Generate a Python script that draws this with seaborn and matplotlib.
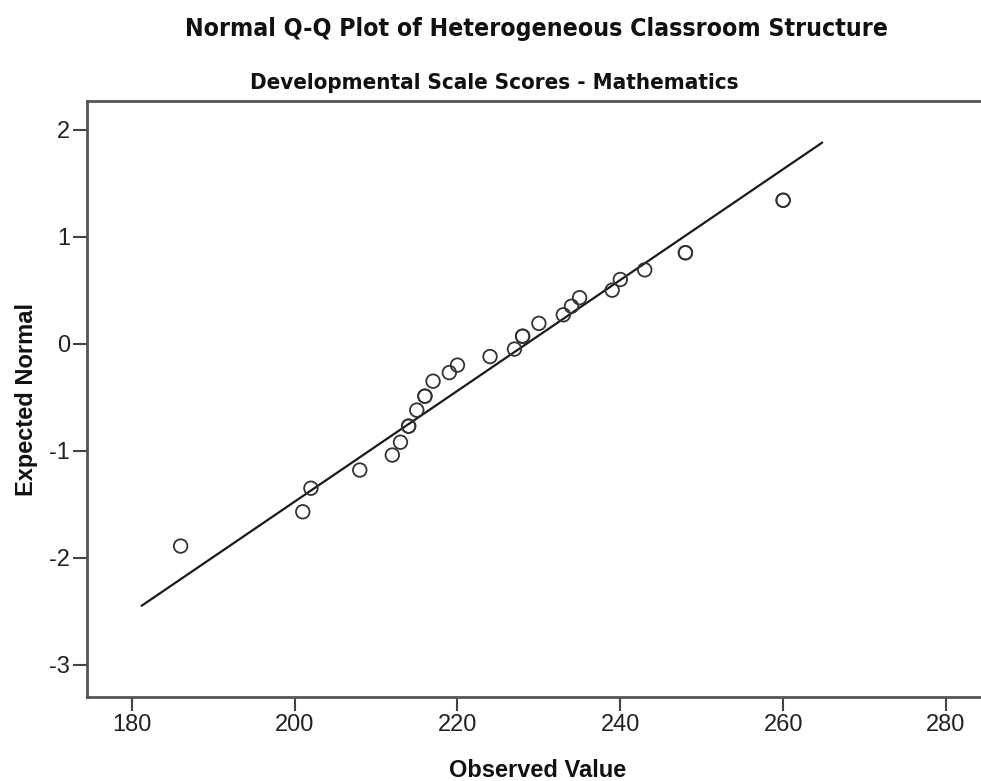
import matplotlib
matplotlib.use("Agg")
import matplotlib.pyplot as plt
import matplotlib.font_manager as fm
import seaborn as sns
import pandas as pd

# ---- data ----
observed = [186, 201, 202, 208, 212, 213, 214, 214, 215, 216, 216, 217, 219, 220,
            224, 227, 228, 228, 230, 233, 234, 235, 239, 240, 243, 248, 248, 260, 260]
expected = [-1.89, -1.57, -1.35, -1.18, -1.04, -0.92, -0.77, -0.77, -0.62, -0.49, -0.49,
            -0.35, -0.27, -0.20, -0.12, -0.05, 0.07, 0.07, 0.19, 0.27, 0.35, 0.43,
            0.50, 0.60, 0.69, 0.85, 0.85, 1.34, 1.34]
line_mean = 228.5
line_sd = 19.32
line_x = [181.2, 264.8]
x_ticks = [180, 200, 220, 240, 260, 280]
y_ticks = [-3, -2, -1, 0, 1, 2]

title = "Normal Q-Q Plot of Heterogeneous Classroom Structure"
subtitle = "Developmental Scale Scores - Mathematics"
xlabel = "Observed Value"
ylabel = "Expected Normal"

sns.set_theme(style="white")
plt.rcParams["font.family"] = ["Liberation Sans", "DejaVu Sans"]

names = {f.name for f in fm.fontManager.ttflist}
if "Liberation Sans Narrow" in names:
    narrow = dict(family=["Liberation Sans Narrow", "DejaVu Sans"])
    t_size, s_size = 20, 18
else:
    narrow = dict(family=["DejaVu Sans"], fontstretch="condensed")
    t_size, s_size = 17.8, 16

W, H = 981, 781
fig = plt.figure(figsize=(W / 100, H / 100), dpi=100)
left, right, top, bottom = 87, 981, 100.7, 697
ax = fig.add_axes([left / W, (H - bottom) / H, (right - left) / W, (bottom - top) / H])

df = pd.DataFrame({"obs": observed, "exp": expected})
ldf = pd.DataFrame({"x": line_x, "y": [(v - line_mean) / line_sd for v in line_x]})

sns.lineplot(data=ldf, x="x", y="y", ax=ax, color="#1a1a1a", linewidth=1.6, zorder=2)
sns.scatterplot(data=df, x="obs", y="exp", ax=ax, marker="o", s=95,
                facecolor="none", edgecolor="#333333", linewidth=1.3, zorder=3)

ax.set_xlim(174.5, 284.3)
ax.set_ylim(-3.30, 2.27)
ax.set_xticks(x_ticks)
ax.set_yticks(y_ticks)
ax.set_xticklabels([str(v) for v in x_ticks])
ax.set_yticklabels([str(v) for v in y_ticks])
ax.tick_params(axis="both", direction="out", length=10, width=1.5, color="#444444",
               labelsize=17, labelcolor="#222222", pad=2)
ax.tick_params(axis="both", which="both", bottom=True, left=True, top=False, right=False)
ax.set_xlabel("")
ax.set_ylabel("")
for side in ["left", "bottom", "top"]:
    ax.spines[side].set_visible(True)
    ax.spines[side].set_color("#555555")
    ax.spines[side].set_linewidth(2.0)
ax.spines["right"].set_visible(False)
ax.grid(False)
ax.set_facecolor("white")

fig.text(185 / W, 1 - 36 / H, title, ha="left", va="baseline", fontsize=t_size,
         fontweight="bold", color="#111111", **narrow)
fig.text(250 / W, 1 - 89 / H, subtitle, ha="left", va="baseline", fontsize=s_size,
         fontweight="bold", color="#111111", **narrow)
fig.text(538 / W, 1 - 777 / H, xlabel, ha="center", va="baseline", fontsize=17,
         fontweight="bold", color="#111111")
fig.text(33 / W, 1 - 399 / H, ylabel, ha="center", va="baseline", rotation=90,
         rotation_mode="anchor", fontsize=17, fontweight="bold", color="#111111")

fig.savefig("out.png", dpi=100, facecolor="white")
